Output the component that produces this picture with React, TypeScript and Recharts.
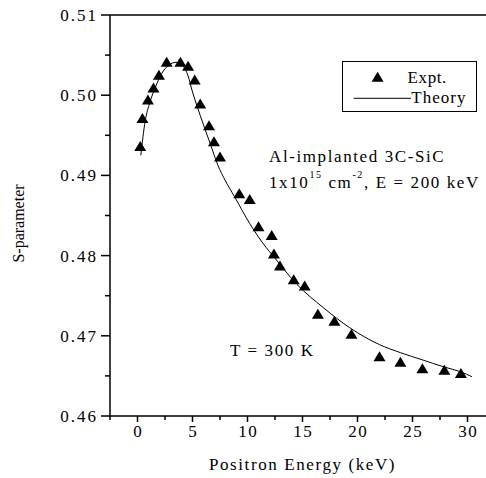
import React from "react";
import {
  ComposedChart,
  Line,
  Scatter,
  XAxis,
  YAxis,
  Legend,
  ReferenceLine,
} from "recharts";

// measured S-parameter vs positron energy (triangles)
const exptEnergy = [0.25, 0.45, 0.95, 1.45, 1.95, 2.65, 3.9, 4.6, 5.2, 5.7, 6.5, 6.95, 7.5, 9.25, 10.2, 11.0, 12.2, 12.4, 12.95, 14.2, 15.2, 16.4, 17.9, 19.45, 22.0, 23.9, 25.9, 27.9, 29.4];
const exptS = [0.4936, 0.4971, 0.4994, 0.5009, 0.5025, 0.5041, 0.5041, 0.5036, 0.5019, 0.4989, 0.4962, 0.4942, 0.4923, 0.4877, 0.487, 0.4836, 0.4825, 0.4802, 0.4787, 0.477, 0.4762, 0.4727, 0.4718, 0.4702, 0.4674, 0.4667, 0.4659, 0.4657, 0.4653];

// fitted curve
const theoryEnergy = [0.3, 0.7, 1.1, 1.6, 2.2, 2.8, 3.5, 4.1, 4.6, 5.0, 5.4, 6.0, 6.6, 7.3, 8.0, 8.8, 10.2, 11.7, 12.3, 14.5, 16.9, 19.3, 22.0, 23.9, 25.9, 27.9, 29.4, 30.4];
const theoryS = [0.4925, 0.4968, 0.499, 0.5009, 0.5027, 0.5037, 0.5041, 0.5037, 0.5024, 0.5004, 0.4987, 0.4963, 0.494, 0.4913, 0.4893, 0.4874, 0.484, 0.481, 0.48, 0.4764, 0.4735, 0.471, 0.4689, 0.4679, 0.467, 0.4661, 0.4655, 0.4649];

const xTicks = [-2.5, 0, 2.5, 5, 7.5, 10, 12.5, 15, 17.5, 20, 22.5, 25, 27.5, 30, 32.5];
const yTicks = [0.46, 0.465, 0.47, 0.475, 0.48, 0.485, 0.49, 0.495, 0.5, 0.505, 0.51];

const expt = exptEnergy.map((e, i) => ({ e, s: exptS[i] }));
const theory = theoryEnergy.map((e, i) => ({ e, s: theoryS[i] }));

const FONT = "Liberation Serif";

const Triangle = (props: any) => {
  const { cx, cy } = props;
  if (cx == null || cy == null) return null;
  return (
    <polygon
      points={`${cx},${cy - 5.5} ${cx - 6},${cy + 4.5} ${cx + 6},${cy + 4.5}`}
      fill="#000"
    />
  );
};

const XTick = (props: any) => {
  const { x, y, payload } = props;
  const v = payload.value;
  const major = Math.abs(v / 5 - Math.round(v / 5)) < 1e-6;
  return (
    <g>
      <line x1={x} x2={x} y1={y} y2={y + (major ? 6 : 4)} stroke="#000" strokeWidth={1.5} />
      {major && (
        <text
          x={x + 0.8}
          y={y + 21}
          textAnchor="middle"
          style={{ fontFamily: FONT, fontSize: 17, letterSpacing: 1.6 }}
          fill="#000"
        >
          {v}
        </text>
      )}
    </g>
  );
};

const YTick = (props: any) => {
  const { x, y, payload } = props;
  const v = payload.value;
  const major = Math.abs(v * 100 - Math.round(v * 100)) < 1e-6;
  return (
    <g>
      <line x1={x} x2={x - (major ? 9 : 5)} y1={y} y2={y} stroke="#000" strokeWidth={1.5} />
      {major && (
        <text
          x={x - 12}
          y={y + 6}
          textAnchor="end"
          style={{ fontFamily: FONT, fontSize: 17, letterSpacing: 2 }}
          fill="#000"
        >
          {v.toFixed(2)}
        </text>
      )}
    </g>
  );
};

const YLabel = (props: any) => {
  const vb = props.viewBox;
  const cx = vb.x + 18;
  const cy = vb.y + vb.height / 2 + 8;
  return (
    <text
      transform={`translate(${cx},${cy}) rotate(-90)`}
      textAnchor="middle"
      dy="0.35em"
      style={{ fontFamily: FONT, fontSize: 16 }}
      fill="#000"
    >
      S-parameter
    </text>
  );
};

const XLabel = (props: any) => {
  const vb = props.viewBox;
  return (
    <text
      x={vb.x + vb.width / 2}
      y={vb.y + 54}
      textAnchor="middle"
      style={{ fontFamily: FONT, fontSize: 17, letterSpacing: 1.6 }}
      fill="#000"
    >
      Positron Energy (keV)
    </text>
  );
};

const LegendBox = () => (
  <svg width={135} height={51} style={{ display: "block" }}>
    <rect x={0.5} y={0.5} width={134} height={50} fill="#fff" stroke="#000" strokeWidth={1} />
    <polygon points="35.6,10.7 29.6,20.7 41.6,20.7" fill="#000" />
    <text x={65.6} y={21.5} style={{ fontFamily: FONT, fontSize: 17, letterSpacing: 0.6 }} fill="#000">
      Expt.
    </text>
    <line x1={11.6} x2={69} y1={37.3} y2={37.3} stroke="#000" strokeWidth={1} />
    <text x={69.3} y={41.8} style={{ fontFamily: FONT, fontSize: 17, letterSpacing: 1 }} fill="#000">
      Theory
    </text>
  </svg>
);

export default function App() {
  return (
    <div
      style={{
        position: "absolute",
        left: 0,
        top: 0,
        width: 486,
        height: 478,
        overflow: "hidden",
        background: "#fff",
      }}
    >
      <ComposedChart
        width={500}
        height={478}
        margin={{ top: 15, right: 5, left: 0, bottom: 0 }}
      >
        <XAxis
          dataKey="e"
          type="number"
          domain={[-2.5, 32.5]}
          ticks={xTicks}
          interval={0}
          allowDataOverflow
          height={62}
          tickSize={0}
          tickMargin={0}
          tickLine={false}
          tick={<XTick />}
          axisLine={{ stroke: "#000", strokeWidth: 1.5 }}
          label={{ content: <XLabel /> }}
        />
        <YAxis
          type="number"
          domain={[0.46, 0.51]}
          ticks={yTicks}
          interval={0}
          allowDataOverflow
          width={110}
          tickSize={0}
          tickMargin={0}
          tickLine={false}
          tick={<YTick />}
          axisLine={{ stroke: "#000", strokeWidth: 1.5 }}
          label={{ content: <YLabel /> }}
        />
        <ReferenceLine y={0.51} stroke="#000" strokeWidth={1.5} ifOverflow="visible" />
        <Line
          data={theory}
          dataKey="s"
          type="monotone"
          stroke="#000"
          strokeWidth={1}
          dot={false}
          isAnimationActive={false}
          name="Theory"
        />
        <Scatter
          data={expt}
          dataKey="s"
          shape={<Triangle />}
          isAnimationActive={false}
          name="Expt."
        />
        <Legend
          layout="vertical"
          align="center"
          verticalAlign="middle"
          content={<LegendBox />}
          wrapperStyle={{ left: 341.5, top: 60.5, width: 135, height: 51 }}
        />
      </ComposedChart>
      <svg
        width={486}
        height={478}
        style={{ position: "absolute", left: 0, top: 0, pointerEvents: "none" }}
      >
        <g style={{ fontFamily: FONT, fontSize: 17, letterSpacing: 1.6 }} fill="#000">
          <text x={269} y={161.5}>Al-implanted 3C-SiC</text>
          <text x={269} y={187.5}>
            1x10
            <tspan fontSize={10} dy={-10}>15</tspan>
            <tspan dy={10}> cm</tspan>
            <tspan fontSize={10} dy={-10}>-2</tspan>
            <tspan dy={10}>,  E = 200 keV</tspan>
          </text>
          <text x={230} y={356}>T = 300 K</text>
        </g>
      </svg>
    </div>
  );
}
